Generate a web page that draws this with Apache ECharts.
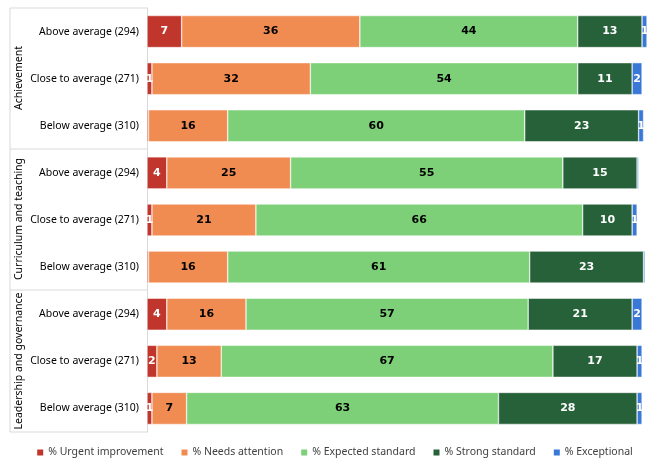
<!DOCTYPE html>
<html>
<head>
<meta charset="utf-8">
<script src="https://cdn.jsdelivr.net/npm/echarts@6/dist/echarts.min.js"></script>
<style>html,body{margin:0;padding:0;background:#fff}#chart{width:670px;height:469px}</style>
</head>
<body>
<div id="chart"></div>
<script>
var categories = [
    'Above average (294)', 'Close to average (271)', 'Below average (310)',
    'Above average (294)', 'Close to average (271)', 'Below average (310)',
    'Above average (294)', 'Close to average (271)', 'Below average (310)'
];
var groups = ['Achievement', 'Curriculum and teaching', 'Leadership and governance'];
var urgent   = [7, 1, 0.3, 4, 1, 0.3, 4, 2, 1];
var needs    = [36, 32, 16, 25, 21, 16, 16, 13, 7];
var expected = [44, 54, 60, 55, 66, 61, 57, 67, 63];
var strong   = [13, 11, 23, 15, 10, 23, 21, 17, 28];
var except   = [1, 2, 1, 0.3, 1, 0.3, 2, 1, 1];

var chart = echarts.init(document.getElementById('chart'));
var font = 'Noto Sans, sans-serif';

function makeSeries(name, data, color, labelColor) {
    return {
        name: name,
        type: 'bar',
        stack: 'total',
        data: data,
        barWidth: 32,
        itemStyle: { color: color, borderColor: '#fff', borderWidth: 0.5 },
        label: {
            show: true,
            color: labelColor,
            fontWeight: 'bold',
            fontSize: 11,
            fontFamily: 'DejaVu Sans, sans-serif',
            formatter: function (p) { return p.value >= 0.5 ? Math.round(p.value) : ''; }
        }
    };
}

var sepLine = { stroke: '#d9d9d9', lineWidth: 1 };
chart.setOption({
    animation: false,
    grid: { left: 147, right: 23, top: 8, bottom: 37 },
    xAxis: { type: 'value', min: 0, max: 101, show: false },
    yAxis: {
        type: 'category',
        data: categories,
        inverse: true,
        axisLine: { lineStyle: { color: '#d9d9d9' } },
        axisTick: { show: false },
        axisLabel: { color: '#000', fontSize: 10.5, fontFamily: font, margin: 8 }
    },
    legend: {
        bottom: 6,
        left: 'center',
        itemWidth: 6,
        itemHeight: 6,
        itemGap: 18,
        icon: 'rect',
        itemStyle: { borderWidth: 0 },
        textStyle: { fontSize: 10.5, fontFamily: font, color: '#404040' }
    },
    graphic: [
        { type: 'line', shape: { x1: 10, y1: 8, x2: 10, y2: 432 }, style: sepLine },
        { type: 'line', shape: { x1: 10, y1: 8, x2: 147, y2: 8 }, style: sepLine },
        { type: 'line', shape: { x1: 10, y1: 149, x2: 147, y2: 149 }, style: sepLine },
        { type: 'line', shape: { x1: 10, y1: 290, x2: 147, y2: 290 }, style: sepLine },
        { type: 'line', shape: { x1: 10, y1: 432, x2: 147, y2: 432 }, style: sepLine },
        { type: 'text', x: 14, y: 78, rotation: Math.PI / 2, style: { text: groups[0], fill: '#000', font: '10.5px ' + font, textAlign: 'center', textVerticalAlign: 'top' } },
        { type: 'text', x: 14, y: 219, rotation: Math.PI / 2, style: { text: groups[1], fill: '#000', font: '10.5px ' + font, textAlign: 'center', textVerticalAlign: 'top' } },
        { type: 'text', x: 14, y: 361, rotation: Math.PI / 2, style: { text: groups[2], fill: '#000', font: '10.5px ' + font, textAlign: 'center', textVerticalAlign: 'top' } }
    ],
    series: [
        makeSeries('% Urgent improvement', urgent, '#C0362C', '#fff'),
        makeSeries('% Needs attention', needs, '#F08C52', '#000'),
        makeSeries('% Expected standard', expected, '#7DD078', '#000'),
        makeSeries('% Strong standard', strong, '#27613A', '#fff'),
        makeSeries('% Exceptional', except, '#3A78D8', '#fff')
    ]
});
</script>
</body>
</html>
